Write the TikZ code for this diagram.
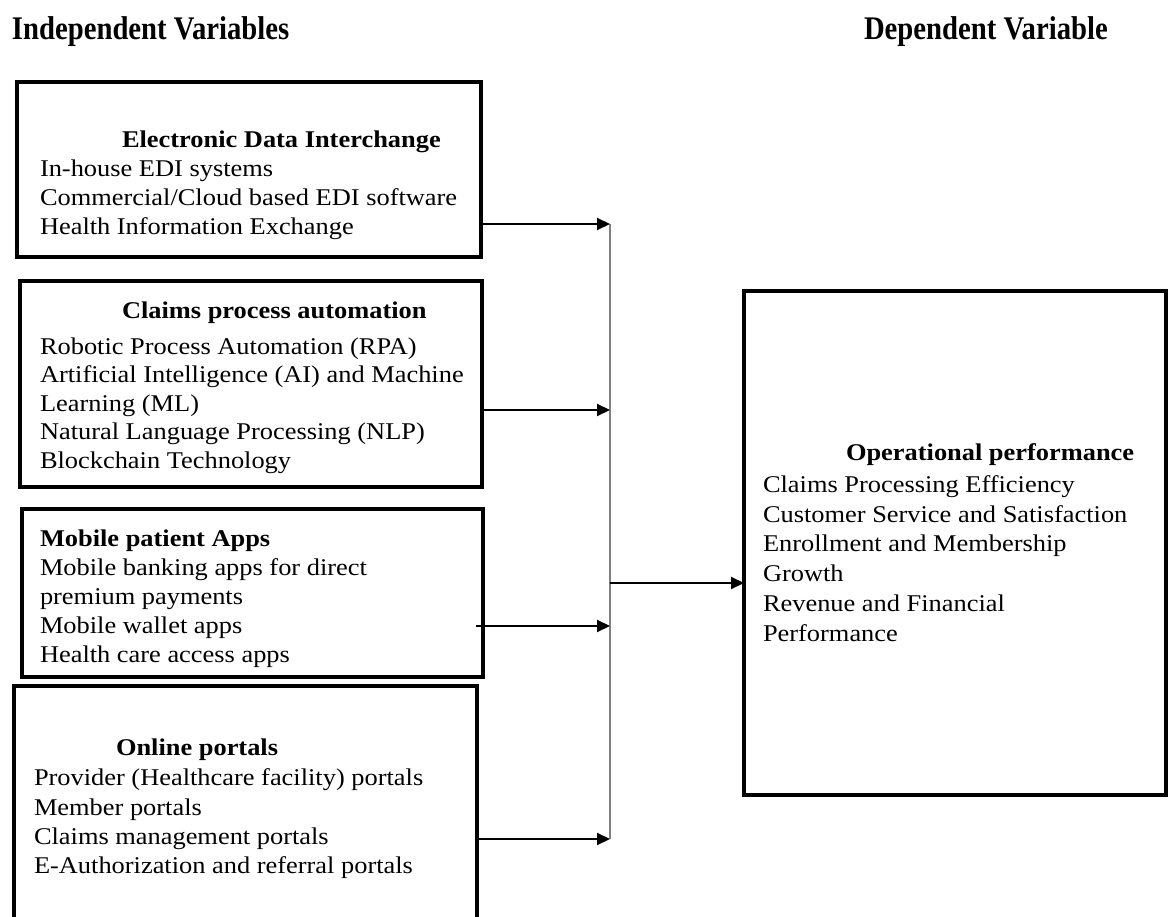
\documentclass[tikz,border=0pt]{standalone}
\usepackage{fontspec}
\setmainfont{Liberation Serif}[FakeStretch=1.10]
\newfontfamily\hdrfont{Liberation Serif}[FakeStretch=0.87]
\usetikzlibrary{arrows.meta,calc}
\begin{document}
\begin{tikzpicture}[x=1pt,y=-1pt,
  box/.style={draw, rectangle, line width=3.6pt, inner sep=0pt, outer sep=0pt},
  ln/.style={anchor=base west, inner sep=0pt, outer sep=0pt, font=\fontsize{24}{28}\selectfont},
  hd/.style={anchor=base west, inner sep=0pt, outer sep=0pt, font=\fontsize{24}{28}\selectfont\bfseries},
  title/.style={anchor=base west, inner sep=0pt, outer sep=0pt, font=\hdrfont\fontsize{33}{36}\selectfont\bfseries},
  arr/.style={line width=2pt, -{Triangle[length=13pt,width=12pt]}},
  vline/.style={line width=1.5pt, draw=black!50}]
\useasboundingbox (0,0) rectangle (1169,917);
% titles
\node[title] (tin) at (12,40) {Independent Variables};
\node[title] (tdep) at (864,40) {Dependent Variable};
% boxes
\node[box, minimum width=464pt, minimum height=175pt] (b1) at (249,169.5) {};
\node[box, minimum width=462pt, minimum height=206pt] (b2) at (251,384) {};
\node[box, minimum width=461pt, minimum height=168pt] (b3) at (252.5,593) {};
\node[box, minimum width=463pt, minimum height=244pt] (b4) at (245.5,808) {};
\node[box, minimum width=422pt, minimum height=504pt] (out) at (955,543) {};
% box 1
\node[hd] (b1h) at (122,148) {Electronic Data Interchange};
\node[ln] (b1a) at (40,177) {In-house EDI systems};
\node[ln] (b1b) at (40,206) {Commercial/Cloud based EDI software};
\node[ln] (b1c) at (40,235) {Health Information Exchange};
% box 2
\node[hd] (b2h) at (122,318) {Claims process automation};
\node[ln] (b2a) at (40,354) {Robotic Process Automation (RPA)};
\node[ln] (b2b) at (40,382.5) {Artificial Intelligence (AI) and Machine};
\node[ln] (b2c) at (40,411) {Learning (ML)};
\node[ln] (b2d) at (40,439.5) {Natural Language Processing (NLP)};
\node[ln] (b2e) at (40,468) {Blockchain Technology};
% box 3
\node[hd] (b3h) at (40,546) {Mobile patient Apps};
\node[ln] (b3a) at (40,575) {Mobile banking apps for direct};
\node[ln] (b3b) at (40,604.5) {premium payments};
\node[ln] (b3c) at (40,633) {Mobile wallet apps};
\node[ln] (b3d) at (40,662) {Health care access apps};
% box 4
\node[hd] (b4h) at (116,755) {Online portals};
\node[ln] (b4a) at (34,785) {Provider (Healthcare facility) portals};
\node[ln] (b4b) at (34,815) {Member portals};
\node[ln] (b4c) at (34,844) {Claims management portals};
\node[ln] (b4d) at (34,873) {E-Authorization and referral portals};
% output box
\node[hd] (oh) at (846,460) {Operational performance};
\node[ln] (oa) at (763,492) {Claims Processing Efficiency};
\node[ln] (ob) at (763,522) {Customer Service and Satisfaction};
\node[ln] (oc) at (763,551) {Enrollment and Membership};
\node[ln] (od) at (763,581) {Growth};
\node[ln] (oe) at (763,611) {Revenue and Financial};
\node[ln] (of) at (763,641) {Performance};
% junction points
\coordinate (j1) at (610,224);
\coordinate (j2) at (610,410);
\coordinate (jm) at (610,583);
\coordinate (j3) at (610,626);
\coordinate (j4) at (610,839);
% connectors
\draw[vline] (j1) -- (j4);
\draw[arr] (b1.east |- j1) -- (j1);
\draw[arr] (b2.east |- j2) -- (j2);
\draw[arr] ($(b3.east |- j3)+(-7,0)$) -- (j3);
\draw[arr] (b4.east |- j4) -- (j4);
\draw[arr] (jm) -- (out.west |- jm);
\end{tikzpicture}
\end{document}
